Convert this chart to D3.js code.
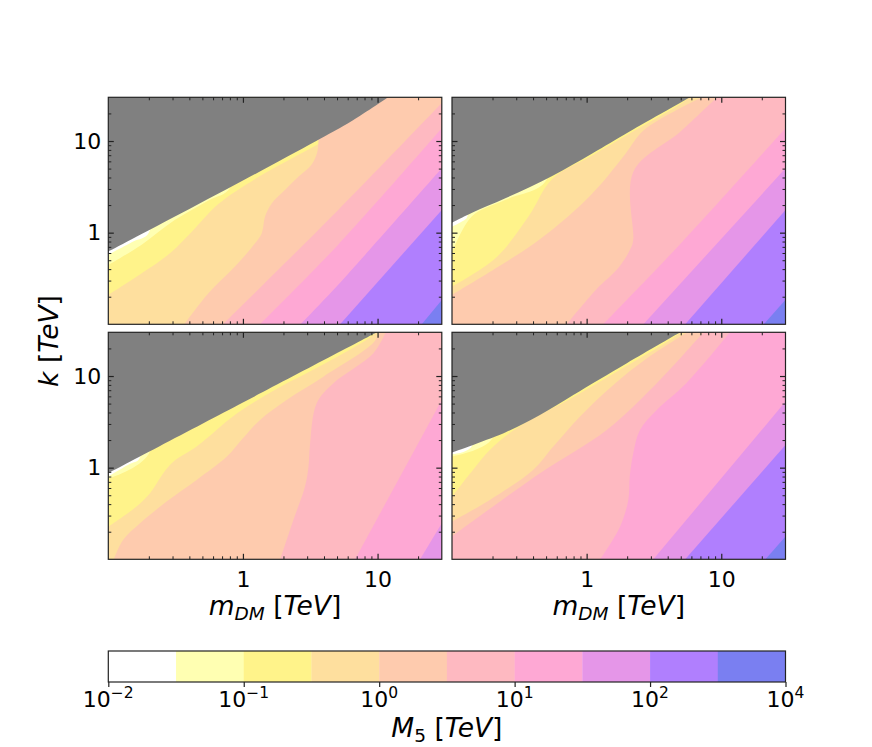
<!DOCTYPE html>
<html>
<head>
<meta charset="utf-8">
<script src="https://cdn.jsdelivr.net/npm/d3@7/dist/d3.min.js"></script>
<style>
  body { margin: 0; background: #fff; }
  text { font-family: "DejaVu Sans", sans-serif; }
</style>
</head>
<body>
<div id="chart"></div>
<script>
// M5 [TeV] contour levels and fill colours (one colour per band)
var levels = [0.01, 0.0316, 0.1, 0.316, 1, 3.16, 10, 31.6, 100, 316, 10000];
var colors = ["#ffffff", "#ffffb2", "#fff38a", "#fedf9e", "#fecbae",
              "#feb9c1", "#fea8d4", "#e596e8", "#b07ffe", "#7a7ff1"];
var cbTickIdx = [0, 2, 4, 6, 8, 10];   // colorbar ticks (index into levels)

var majorTicks = [1, 10];
var minorTicks = [0.2, 0.3, 0.4, 0.5, 0.6, 0.7, 0.8, 0.9, 2, 3, 4, 5, 6, 7, 8, 9, 20];

// contour lines [m_DM, k] in TeV, one per level from 10^-1.5 up to 10^2.5
// each runs from the left/bottom edge to the top/right edge
var p1Gray = [[0.1,0.62],[0.3,1.45],[1.0,3.7],[3.5,10.0],[6.0,15.5],[12.0,30]];
var p1Lines = [
  [[0.1,0.575],[0.153,0.80],[0.2,1.0],[0.2,30]],
  [[0.1,0.444],[0.177,0.74],[0.313,1.38],[0.554,2.25],[0.8,3.1],[0.8,30]],
  [[0.1,0.209],[0.177,0.36],[0.287,0.595],[0.441,1.12],[0.656,2.05],[1.3,4.05],[3.07,8.1],[5.1,12.3],[11.8,30]],
  [[0.367,0.1],[0.554,0.218],[0.873,0.426],[1.23,0.765],[1.38,0.987],[1.46,1.5],[1.64,2.09],[2.05,2.92],[2.58,4.08],[3.24,5.56],[3.54,7.33],[3.63,9.3],[3.63,30]],
  [[0.71,0.1],[5.1,1.77],[30,26]],
  [[1.34,0.1],[5.1,0.74],[30,13.8]],
  [[2.68,0.1],[5.1,0.27],[30,5.04]],
  [[5.27,0.1],[30,1.77]],
  [[21.3,0.1],[30,0.184]]
];

var p2Gray = [[0.1,1.285],[0.141,1.65],[0.249,2.37],[0.555,4.15],[1.1,7.3],[2.07,12.6],[5.87,30]];
var p2Lines = [
  [[0.1,1.16],[0.126,1.40],[0.13,1.5],[0.13,30]],
  [[0.1,0.6],[0.14,1.5],[0.25,2.28],[0.5,3.7],[0.5,30]],
  [[0.1,0.258],[0.21,0.525],[0.372,1.52],[0.555,3.85],[1.1,6.95],[2.07,12.0],[5.6,29],[5.6,30]],
  [[0.1,0.209],[0.222,0.426],[0.442,0.832],[0.877,1.92],[1.23,3.18],[1.95,7.33],[2.67,13.2],[7.2,30]],
  [[0.71,0.1],[1.17,0.237],[1.73,0.416],[2.15,0.7],[2.22,0.85],[2.22,4.6],[4.96,12.6],[9.3,30]],
  [[1.33,0.1],[5.16,0.8],[30,13.8]],
  [[2.64,0.1],[30,5.04]],
  [[5.4,0.1],[30,1.77]],
  [[20.7,0.1],[30,0.185]]
];

var p3Gray = [[0.1,0.87],[1.0,5.14],[9.9,30]];
var p3Lines = [
  [[0.1,0.80],[0.145,1.1],[0.17,1.25],[0.17,30]],
  [[0.1,0.76],[0.2,1.42],[0.2,30]],
  [[0.1,0.227],[0.162,0.376],[0.204,0.526],[0.256,0.869],[0.304,1.16],[0.453,1.70],[0.9,3.9],[1.8,7.3],[4.0,13.5],[9.5,29],[9.5,30]],
  [[0.11,0.1],[0.129,0.163],[0.172,0.247],[0.271,0.427],[0.453,0.735],[0.76,1.32],[1.0,2.09],[1.34,3.32],[2.11,5.48],[3.96,9.84],[9.3,23],[10.3,30]],
  [[1.89,0.1],[2.37,0.269],[2.89,0.621],[3.07,1.03],[3.14,1.70],[3.53,5.04],[4.7,8.34],[9.31,17.7],[11.5,30]],
  [[6.81,0.1],[30,5.48]],
  [[20.7,0.1],[30,0.247]],
  null,
  null
];

var p4Gray = [[0.1,1.46],[0.253,2.45],[0.45,3.76],[0.796,6.21],[1.99,13.8],[4.96,30]];
var p4Lines = [
  [[0.1,1.40],[0.14,1.7],[0.14,30]],
  [[0.1,1.33],[0.2,2.1],[0.2,30]],
  [[0.1,0.483],[0.143,0.944],[0.191,1.56],[0.301,2.69],[0.8,5.9],[2.0,13.0],[4.8,29],[4.8,30]],
  [[0.1,0.258],[0.191,0.445],[0.40,0.944],[0.565,1.70],[0.89,3.6],[1.58,7.98],[2.79,15.5],[5.6,30]],
  [[0.1,0.178],[0.45,0.87],[1.41,2.58],[3.32,8.34],[7.38,30]],
  [[1.26,0.1],[1.77,0.227],[2.04,0.445],[2.09,0.80],[2.22,1.44],[2.49,2.58],[3.32,4.27],[5.5,8.34],[11.6,30]],
  [[3.13,0.1],[30,5.26]],
  [[5.4,0.1],[30,1.77]],
  [[21.3,0.1],[30,0.177]]
];

var W = 872, H = 747;
var pw = 333.5, ph = 227;
var lo = 0.1, hi = 30;

var panels = [
  {x: 108.3, y: 97.3,  gray: p1Gray, lines: p1Lines, xlab: false, ylab: true},
  {x: 452,   y: 97.3,  gray: p2Gray, lines: p2Lines, xlab: false, ylab: false},
  {x: 108.3, y: 332.3, gray: p3Gray, lines: p3Lines, xlab: true,  ylab: true},
  {x: 452,   y: 332.3, gray: p4Gray, lines: p4Lines, xlab: true,  ylab: false}
];

var svg = d3.select("#chart").append("svg")
  .attr("width", W)
  .attr("height", H);

// position of an edge point going clockwise round the box (0 = top-left)
var span = Math.log10(hi / lo);
function edgeT(d) {
  if (d[1] >= hi) return Math.log10(d[0] / lo) / span;
  if (d[0] >= hi) return 1 + Math.log10(hi / d[1]) / span;
  if (d[1] <= lo) return 2 + Math.log10(hi / d[0]) / span;
  return 3 + Math.log10(d[1] / lo) / span;
}
var corners = [[lo, hi], [hi, hi], [hi, lo], [lo, lo]];

// box corners to walk through to close the high side of a contour line
function closingCorners(pts) {
  var t0 = edgeT(pts[0]), t1 = edgeT(pts[pts.length - 1]);
  var ts = t0 <= t1 ? t0 + 4 : t0;
  var out = [];
  for (var c = 1; c < 8; c++) {
    if (c > t1 && c < ts) out.push(corners[c % 4]);
  }
  return out;
}

function mathLabel(sel, main, sub, subItalic) {
  sel.append("tspan").attr("font-style", "italic").text(main);
  if (sub) {
    sel.append("tspan").attr("font-style", subItalic ? "italic" : "normal")
      .attr("font-size", 18.5).attr("dy", 5).text(sub);
    sel.append("tspan").attr("dy", -5).text(" [");
  } else {
    sel.append("tspan").text(" [");
  }
  sel.append("tspan").attr("font-style", "italic").text("TeV");
  sel.append("tspan").text("]");
}

panels.forEach(function(p, i) {
  var x = d3.scaleLog().domain([lo, hi]).range([p.x, p.x + pw]);
  var y = d3.scaleLog().domain([lo, hi]).range([p.y + ph, p.y]);
  var curve = d3.line()
    .x(function(d) { return x(d[0]); })
    .y(function(d) { return y(d[1]); })
    .curve(d3.curveCatmullRom.alpha(0.5));
  function shape(pts, extra) {
    return curve(pts) + extra.map(function(c) {
      return "L" + x(c[0]) + "," + y(c[1]);
    }).join("") + "Z";
  }

  svg.append("clipPath").attr("id", "clip" + i)
    .append("rect").attr("x", p.x).attr("y", p.y).attr("width", pw).attr("height", ph);

  var g = svg.append("g").attr("clip-path", "url(#clip" + i + ")");

  g.append("rect")
    .attr("x", p.x).attr("y", p.y).attr("width", pw).attr("height", ph)
    .style("fill", colors[0]);

  p.lines.forEach(function(l, j) {
    if (!l) return;
    g.append("path")
      .attr("d", shape(l, closingCorners(l)))
      .style("fill", colors[j + 1]);
  });

  // excluded region
  g.append("path")
    .attr("d", shape(p.gray, [[lo, hi]]))
    .style("fill", "#808080");

  // ticks on all four sides, pointing in
  var sides = [
    {ax: d3.axisBottom(x), tr: "translate(0," + (p.y + ph) + ")", lab: p.xlab},
    {ax: d3.axisTop(x),    tr: "translate(0," + p.y + ")",        lab: false},
    {ax: d3.axisLeft(y),   tr: "translate(" + p.x + ",0)",        lab: p.ylab},
    {ax: d3.axisRight(y),  tr: "translate(" + (p.x + pw) + ",0)", lab: false}
  ];
  sides.forEach(function(s, k) {
    var minor = svg.append("g").attr("transform", s.tr)
      .call(s.ax.tickValues(minorTicks).tickSize(-3).tickSizeOuter(0).tickFormat(""));
    minor.select(".domain").remove();
    minor.selectAll("line").attr("stroke", "#222");

    var major = svg.append("g").attr("transform", s.tr)
      .call(s.ax.tickValues(majorTicks).tickSize(-5.5).tickSizeOuter(0)
        .tickPadding(k == 0 ? 12 : 7)
        .tickFormat(function(d) { return s.lab ? d : ""; }));
    major.select(".domain").remove();
    major.selectAll("line").attr("stroke", "#222").attr("stroke-width", 1.2);
    major.attr("font-size", 22).attr("font-family", "DejaVu Sans");
    major.selectAll("text").attr("fill", "#000");
  });

  svg.append("rect")
    .attr("x", p.x).attr("y", p.y).attr("width", pw).attr("height", ph)
    .style("fill", "none")
    .style("stroke", "#222")
    .style("stroke-width", 1.2);

  if (p.xlab) {
    var t = svg.append("text")
      .attr("x", p.x + pw / 2).attr("y", 615)
      .attr("text-anchor", "middle")
      .attr("font-size", 26.5);
    mathLabel(t, "m", "DM", true);
  }
});

// y axis label
var yl = svg.append("text")
  .attr("transform", "translate(58,341) rotate(-90)")
  .attr("text-anchor", "middle")
  .attr("font-size", 26.5);
mathLabel(yl, "k", null);

// colorbar
var cbY = 651, cbH = 31;
var cb = d3.scaleLinear().domain([0, colors.length]).range([108.3, 785.5]);

svg.selectAll(".cb")
  .data(colors)
  .enter()
  .append("rect")
  .attr("class", "cb")
  .attr("x", function(d, i) { return cb(i); })
  .attr("y", cbY)
  .attr("width", function(d, i) { return cb(i + 1) - cb(i) + 0.3; })
  .attr("height", cbH)
  .style("fill", function(d) { return d; });

svg.append("rect")
  .attr("x", cb(0)).attr("y", cbY)
  .attr("width", cb(colors.length) - cb(0)).attr("height", cbH)
  .style("fill", "none").style("stroke", "#222").style("stroke-width", 1.2);

var cbAxis = svg.append("g")
  .attr("transform", "translate(0," + (cbY + cbH) + ")")
  .call(d3.axisBottom(cb).tickValues(cbTickIdx).tickSize(5).tickSizeOuter(0).tickFormat(""));
cbAxis.select(".domain").remove();
cbAxis.selectAll("line").attr("stroke", "#222").attr("stroke-width", 1.2);

cbTickIdx.forEach(function(idx) {
  var e = Math.round(Math.log10(levels[idx]));
  var t = svg.append("text")
    .attr("x", cb(idx)).attr("y", 707)
    .attr("text-anchor", "middle")
    .attr("font-size", 22);
  t.append("tspan").text("10");
  t.append("tspan").attr("font-size", 15.5).attr("dy", -9)
    .text(e < 0 ? "\u2212" + (-e) : e);
});

var cl = svg.append("text")
  .attr("x", (cb(0) + cb(colors.length)) / 2).attr("y", 737)
  .attr("text-anchor", "middle")
  .attr("font-size", 26.5);
mathLabel(cl, "M", "5", false);
</script>
</body>
</html>
